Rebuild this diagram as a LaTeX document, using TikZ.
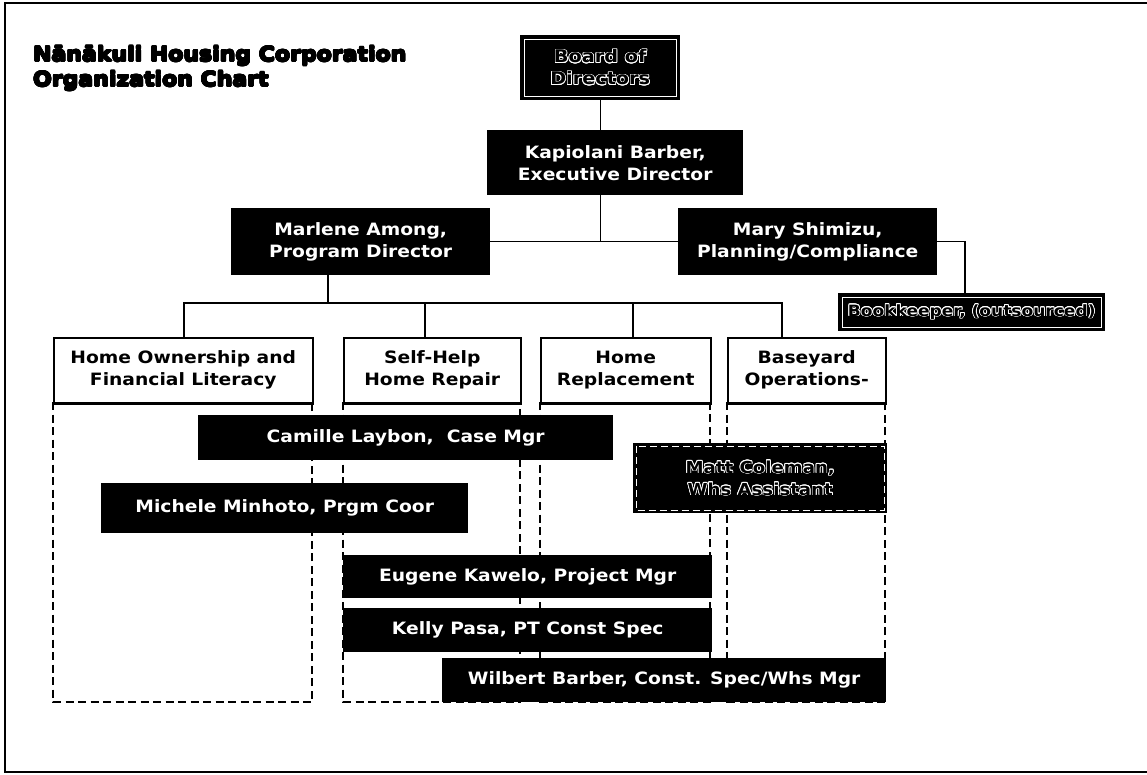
\documentclass[tikz,border=0pt]{standalone}
\usepackage{fontspec}
\setmainfont{DejaVu Sans}[FakeStretch=1.1]
\usepackage{contour}
\contourlength{0.7pt}
\begin{document}
\begin{tikzpicture}[x=1pt,y=-1pt,
  blk/.style={anchor=north west, fill=black, text=white, align=center, inner sep=0pt,
    font=\bfseries\fontsize{17}{22}\selectfont},
  hollowbox/.style={blk, text=black, font=\bfseries\fontsize{17}{22}\selectfont},
  hdr/.style={anchor=north west, draw=black, line width=1.5pt, fill=white, align=center,
    inner sep=0pt, font=\bfseries\fontsize{17}{22}\selectfont},
  lane/.style={draw=black, line width=1.5pt, dash pattern=on 8pt off 4.5pt},
  conn/.style={draw=black, line width=1.3pt},
  innerline/.style={draw=white, line width=0.9pt},
]
\useasboundingbox (0,0) rectangle (1147,774);

% open frame: top, left and bottom rules
\draw[line width=2pt] (1147,3) -- (5,3) -- (5,772) -- (1147,772);

% title
\node[anchor=north west, align=left, inner sep=0pt,
  font=\bfseries\fontsize{20}{25}\selectfont] (title) at (33,46)
  {\contour{black}{Nānākuli Housing Corporation}\\\contour{black}{Organization Chart}};

% program lanes
\draw[lane] (53,402) rectangle (312,702);
\draw[lane] (343,402) rectangle (520,702);
\draw[lane] (540,402) rectangle (710,702);
\draw[lane] (727,402) rectangle (885,702);

% program headers
\node[hdr, minimum width=259, minimum height=65] (hown) at (53,337) {Home Ownership and\\Financial Literacy};
\node[hdr, minimum width=177, minimum height=65] (self) at (343,337) {Self-Help\\Home Repair};
\node[hdr, minimum width=170, minimum height=65] (repl) at (540,337) {Home\\Replacement};
\node[hdr, minimum width=158, minimum height=65] (base) at (727,337) {Baseyard\\Operations-};
\foreach \h in {hown,self,repl,base}
  \draw[line width=2.6pt] (\h.south west) -- (\h.south east);

% leadership
\node[hollowbox, minimum width=160, minimum height=65, font=\bfseries\fontsize{17.5}{22}\selectfont] (board) at (520,35)
  {\contour{white}{Board of}\\\contour{white}{Directors}};
\draw[innerline] ([shift={(4,4)}]board.north west) rectangle ([shift={(-4,-4)}]board.south east);

\node[blk, minimum width=256, minimum height=65] (kap) at (487,130) {Kapiolani Barber,\\Executive Director};
\node[blk, minimum width=259, minimum height=67] (marl) at (231,208) {Marlene Among,\\Program Director};
\node[blk, minimum width=259, minimum height=67] (mary) at (678,208) {Mary Shimizu,\\Planning/Compliance};

\node[hollowbox, minimum width=267, minimum height=38, font=\bfseries\fontsize{15.5}{20}\selectfont] (book) at (838,293)
  {\contour{white}{Bookkeeper, (outsourced)}};
\draw[innerline] ([shift={(4,4)}]book.north west) rectangle ([shift={(-4,-4)}]book.south east);

% staff
\node[blk, minimum width=415, minimum height=45] (cam) at (198,415) {Camille Laybon,\ \ Case Mgr};
\node[blk, minimum width=367, minimum height=50] (mich) at (101,483) {Michele Minhoto, Prgm Coor};
\node[hollowbox, minimum width=254, minimum height=70, font=\bfseries\fontsize{16.5}{22}\selectfont] (matt) at (633,443)
  {\contour{white}{Matt Coleman,}\\\contour{white}{Whs Assistant}};
\draw[innerline, dash pattern=on 7pt off 4pt] ([shift={(3,3)}]matt.north west) rectangle ([shift={(-3,-3)}]matt.south east);
\node[blk, minimum width=369, minimum height=43] (eug) at (343,555) {Eugene Kawelo, Project Mgr};
\node[blk, minimum width=369, minimum height=44] (kel) at (343,608) {Kelly Pasa, PT Const Spec};
\node[blk, minimum width=444, minimum height=44] (wil) at (442,658) {Wilbert Barber, Const. Spec/Whs Mgr};

% reporting lines
\coordinate (bus) at (0,303);
\coordinate (dMar) at (328,0);
\coordinate (dHO) at (184,0);
\coordinate (dSH) at (425,0);
\coordinate (dHR) at (633,0);
\coordinate (dBO) at (782,0);
\coordinate (dBK) at (965,0);
\draw[conn] (board.south) -- (board.south |- kap.north);
\draw[conn] (board.south |- kap.south) -- (board.south |- marl.east);
\draw[conn] (marl.east) -- (mary.west);
\draw[conn] (mary.east) -| (dBK |- book.north);
\draw[conn] (dMar |- marl.south) -- (dMar |- bus);
\draw[conn] (dHO |- hown.north) |- (dBO |- bus) -- (dBO |- base.north);
\draw[conn] (dSH |- self.north) -- (dSH |- bus);
\draw[conn] (dHR |- repl.north) -- (dHR |- bus);
\end{tikzpicture}
\end{document}
